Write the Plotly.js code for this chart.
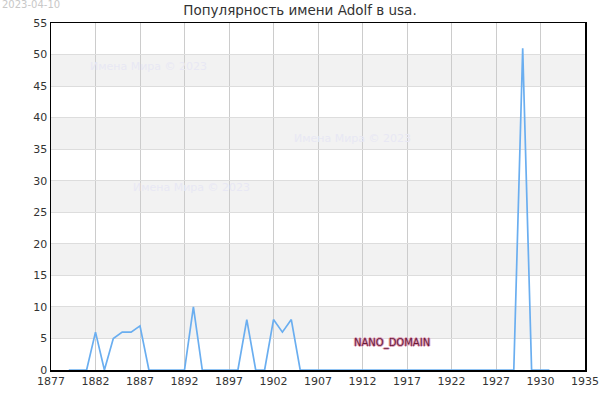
<!DOCTYPE html>
<html>
<head>
<meta charset="utf-8">
<script src="https://cdn.plot.ly/plotly-3.0.1.min.js"></script>
<style>
html, body { margin: 0; padding: 0; background: #fff; }
#chart { width: 600px; height: 400px; }
</style>
</head>
<body>
<div id="chart"></div>
<script>
const years = [1879,1880,1881,1882,1883,1884,1885,1886,1887,1888,1889,1890,1891,1892,1893,1894,1895,1896,1897,1898,1899,1900,1901,1902,1903,1904,1905,1906,1907,1908,1909,1910,1911,1912,1913,1914,1915,1916,1917,1918,1919,1920,1921,1922,1923,1924,1925,1926,1927,1928,1929,1930,1931,1932,1933];
const counts = [0,0,0,6,0,5,6,6,7,0,0,0,0,0,10,0,0,0,0,0,8,0,0,8,6,8,0,0,0,0,0,0,0,0,0,0,0,0,0,0,0,0,0,0,0,0,0,0,0,0,0,51,0,0,0];

// ticks are evenly spaced but the last two carry the site's own labels
const tickVals = [1877,1882,1887,1892,1897,1902,1907,1912,1917,1922,1927,1932,1937];
const tickText = ["1877","1882","1887","1892","1897","1902","1907","1912","1917","1922","1927","1930","1935"];

// grey bands on the y axis
const bandStarts = [5,15,25,35,45];

const shapes = bandStarts.map(b => ({
  type: "rect", xref: "paper", yref: "y", x0: 0, x1: 1, y0: b, y1: b + 5,
  fillcolor: "#f2f2f2", line: {width: 0}, layer: "below"
}));

const wm = {text: "Имена Мира © 2023", showarrow: false, xref: "paper", yref: "paper",
  xanchor: "center", yanchor: "middle",
  font: {family: "DejaVu Sans", size: 11, color: "#e8e8f4"}};

const annotations = [
  Object.assign({}, wm, {x: 0.183, y: 0.875}),
  Object.assign({}, wm, {x: 0.565, y: 0.668}),
  Object.assign({}, wm, {x: 0.263, y: 0.527}),
  {text: "2023-04-10", showarrow: false, xref: "paper", yref: "paper",
   x: -0.0955, y: 1.052, xanchor: "left", yanchor: "middle",
   font: {family: "DejaVu Sans", size: 10, color: "#c8c8c8"}},
  {text: "NANO_DOMAIN", showarrow: false, xref: "paper", yref: "paper",
   x: 0.6386, y: 0.078, xanchor: "center", yanchor: "middle",
   font: {family: "DejaVu Sans", size: 10, color: "#6a1a3a",
          shadow: "1px 0 0 #e0a0b8, -1px 0 0 #e0a0b8, 0 1px 0 #e0a0b8, 0 -1px 0 #e0a0b8"}}
];

const data = [{
  x: years,
  y: counts,
  type: "scatter",
  mode: "lines",
  line: {color: "#6aaef0", width: 1.7},
  hoverinfo: "x+y"
}];

const layout = {
  width: 600,
  height: 400,
  title: {text: "Популярность имени Adolf в usa.", x: 0.5, xanchor: "center",
          yref: "container", y: 0.974, yanchor: "middle",
          font: {family: "DejaVu Sans", size: 13.5, color: "#333"}},
  font: {family: "DejaVu Sans", size: 11, color: "#333"},
  margin: {t: 23, l: 51, b: 30, r: 15},
  paper_bgcolor: "#fff",
  plot_bgcolor: "#fff",
  showlegend: false,
  xaxis: {
    range: [1877, 1937],
    tickvals: tickVals,
    ticktext: tickText,
    showgrid: true,
    gridcolor: "#cccccc",
    zeroline: false,
    showline: true,
    linecolor: "#000",
    linewidth: 1.5,
    mirror: true,
    ticks: ""
  },
  yaxis: {
    range: [0, 55],
    dtick: 5,
    showgrid: true,
    gridcolor: "#dddddd",
    zeroline: false,
    showline: true,
    linecolor: "#000",
    linewidth: 1.5,
    mirror: true,
    ticks: ""
  },
  shapes: shapes,
  annotations: annotations
};

var config = {displayModeBar: false, staticPlot: true};

Plotly.newPlot("chart", data, layout, config);
</script>
</body>
</html>
